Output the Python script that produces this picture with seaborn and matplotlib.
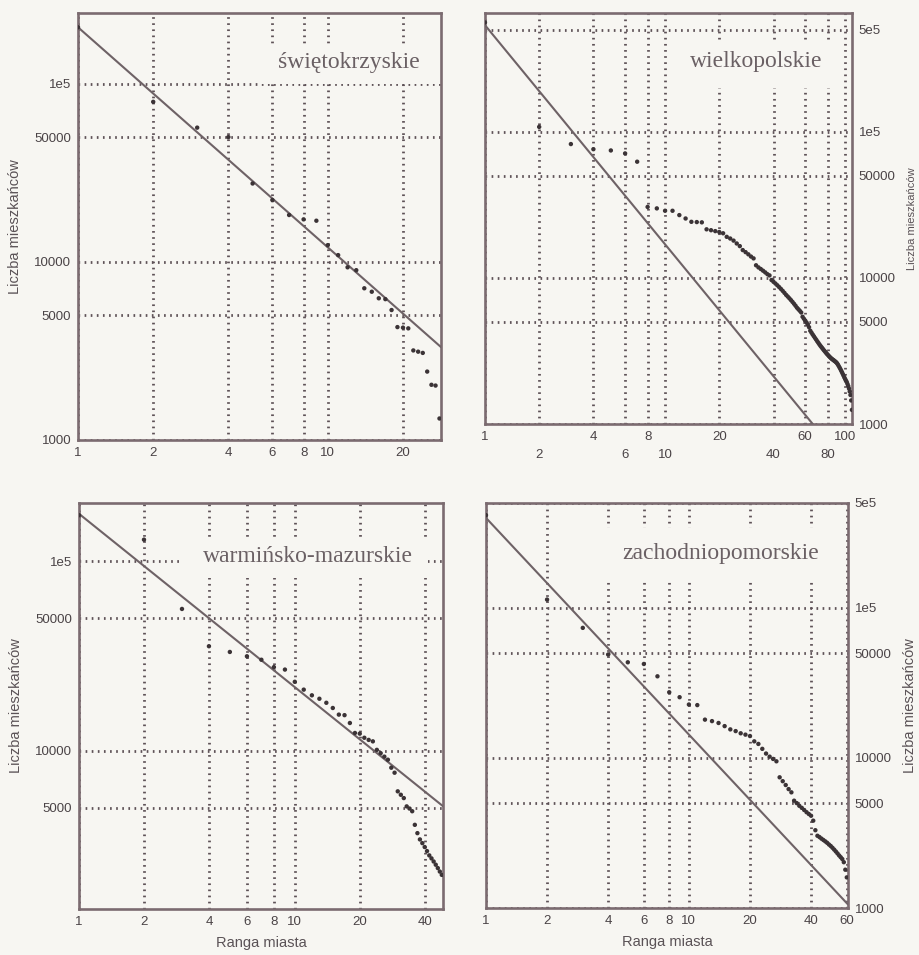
import matplotlib
matplotlib.use("Agg")
import matplotlib.pyplot as plt
from matplotlib.patches import Rectangle
import seaborn as sns
import pandas as pd

sns.set_theme(style="ticks")
plt.rcParams['font.family'] = ['Liberation Sans', 'DejaVu Sans']

BG = '#f7f6f2'
FRAME = '#7b6b70'
GRID = '#5e5257'
LINE = '#6e6266'
DOT = '#3b3336'
TXT = '#4a4346'

# city populations ordered by rank
swiet_pop = [207000, 79000, 56600, 50100, 27500, 22200, 18300, 17300, 17000, 12400,
             10900, 9310, 8970, 7100, 6790, 6240, 6170, 5360, 4300, 4270,
             4230, 3180, 3130, 3080, 2420, 2040, 2020, 1320]

wielk_pop = [560000, 108000, 82400, 76000, 74500, 71100, 62400,
             30600, 29900, 28800, 28800, 26900, 25500, 24200, 24100, 24000,
             21500, 21200, 20900, 20600, 20200,
             19100, 18600, 18000, 17200, 16500,
             15500, 15000, 14500, 14000, 13600,
             12200, 11800, 11500, 11200, 10900, 10600, 10400,
             9670, 9400, 9150, 8900, 8650, 8400, 8150, 7900, 7650, 7450,
             7250, 7050, 6850, 6650, 6450, 6250, 6100, 5950, 5800,
             5420, 5250, 5100, 4950, 4800, 4600,
             4350, 4220, 4100, 3990, 3880, 3780, 3680, 3590, 3500, 3420,
             3350, 3280, 3210, 3150, 3090, 3030, 2980, 2930, 2880, 2840,
             2800, 2770, 2740, 2710, 2680, 2650,
             2610, 2560, 2500, 2440, 2380, 2320, 2260, 2200, 2140, 2080, 2030, 1980,
             1940, 1880, 1820, 1750, 1670, 1580, 1450, 1250]

warm_pop = [175000, 130000, 56000, 35600, 33200, 31500, 30200, 27600, 26800, 23100,
            21000, 19600, 18800, 17900, 16800, 15500, 15400, 14000, 12400, 12300,
            11700, 11400, 11200, 10100, 9700, 9300, 8960, 8130, 7650, 6100,
            5850, 5620, 5080, 4950, 4790, 4060, 3670, 3400, 3250, 3100,
            2950, 2800, 2700, 2600, 2500, 2400, 2300, 2210]

zach_pop = [415000, 113600, 73600, 48900, 43400, 42300, 35000, 27400, 25400, 22700,
            22500, 18000, 17600, 17100, 16300, 15500, 15100, 14600, 14300, 14000,
            12900, 12400, 11500, 10700, 10200, 9850, 9500, 7430, 7000, 6600,
            6200, 5900, 5190, 5000, 4800, 4650, 4500, 4350, 4230, 4120,
            3820, 3300, 3030, 2970, 2900, 2840, 2780, 2720, 2650, 2590,
            2520, 2450, 2380, 2310, 2240, 2180, 2120, 2020, 1800, 1600]

# fitted rank-size line: value at rank 1 and slope
swiet_fit = (207000, -1.235)
wielk_fit = (537000, -1.50)
warm_fit = (178000, -0.915)
zach_fit = (398000, -1.444)

region_names = ['świętokrzyskie', 'wielkopolskie', 'warmińsko-mazurskie', 'zachodniopomorskie']

panels = [
    dict(name=region_names[0], pop=swiet_pop, fit=swiet_fit,
         rect=[0.0849, 0.5393, 0.395, 0.4471], xlim=(1, 28.4), ylim=(1000, 2.49e5),
         xticks=[1, 2, 4, 6, 8, 10, 20], xticks2=None,
         yticks=[1000, 5000, 10000, 50000, 1e5], side='left', xlabel=False,
         title_xy=(0.745, 0.885), box=(0.50, 0.834, 0.50, 0.091), ylab_size=10.5),
    dict(name=region_names[1], pop=wielk_pop, fit=wielk_fit,
         rect=[0.5277, 0.5560, 0.3993, 0.4304], xlim=(1, 109), ylim=(1000, 6.5e5),
         xticks=[1, 4, 8, 20, 60, 100], xticks2=[2, 6, 10, 40, 80],
         yticks=[1000, 5000, 10000, 50000, 1e5, 5e5], side='right', xlabel=False,
         title_xy=(0.74, 0.882), box=(0.531, 0.8175, 0.444, 0.1165), ylab_size=8),
    dict(name=region_names[2], pop=warm_pop, fit=warm_fit,
         rect=[0.0860, 0.0482, 0.396, 0.4251], xlim=(1, 48.6), ylim=(1460, 2.03e5),
         xticks=[1, 2, 4, 6, 8, 10, 20, 40], xticks2=None,
         yticks=[5000, 10000, 50000, 1e5], side='left', xlabel=True,
         title_xy=(0.63, 0.868), box=(0.286, 0.816, 0.673, 0.099), ylab_size=10.5),
    dict(name=region_names[3], pop=zach_pop, fit=zach_fit,
         rect=[0.5288, 0.0492, 0.3939, 0.4241], xlim=(1, 60.8), ylim=(1000, 5e5),
         xticks=[1, 2, 4, 6, 8, 10, 20, 40, 60], xticks2=None,
         yticks=[1000, 5000, 10000, 50000, 1e5, 5e5], side='right', xlabel=True,
         title_xy=(0.648, 0.875), box=(0.315, 0.81, 0.635, 0.129), ylab_size=10.5),
]


def ylab(v):
    if v >= 1e5:
        return '%de5' % (v / 1e5)
    return '%d' % v


fig = plt.figure(figsize=(9.19, 9.55), dpi=100, facecolor=BG)

for p in panels:
    ax = fig.add_axes(p['rect'])
    ax.set_facecolor(BG)
    df = pd.DataFrame({'rank': range(1, len(p['pop']) + 1), 'pop': p['pop']})

    a, b = p['fit']
    x_end = p['xlim'][1]
    fit_df = pd.DataFrame({'rank': [1, x_end], 'pop': [a, a * x_end ** b]})
    sns.lineplot(data=fit_df, x='rank', y='pop', ax=ax, color=LINE, lw=1.5, zorder=3)
    sns.scatterplot(data=df, x='rank', y='pop', ax=ax, color=DOT, s=10,
                    edgecolor='none', zorder=4)

    ax.set_xscale('log')
    ax.set_yscale('log')
    ax.set_xlim(*p['xlim'])
    ax.set_ylim(*p['ylim'])
    ax.minorticks_off()
    ax.set_xticks(p['xticks'], [str(t) for t in p['xticks']])
    if p['xticks2']:
        ax.set_xticks(p['xticks2'], [str(t) for t in p['xticks2']], minor=True)
        ax.tick_params(axis='x', which='minor', pad=18, length=0,
                       labelsize=9.5, labelcolor=TXT)
    ax.set_yticks(p['yticks'], [ylab(t) for t in p['yticks']])
    ax.tick_params(which='major', length=0, labelsize=9.5, labelcolor=TXT, pad=5)

    ax.grid(True, which='both', ls=(0, (0.6, 1.6)), lw=2.0, color=GRID)
    ax.set_axisbelow(True)
    for s in ax.spines.values():
        s.set_visible(True)
        s.set_color(FRAME)
        s.set_linewidth(1.9)

    # the label area in the scan blanks out the grid behind it
    bx, by, bw, bh = p['box']
    ax.add_patch(Rectangle((bx, by), bw, bh, transform=ax.transAxes,
                           fc=BG, ec='none', zorder=2))

    if p['side'] == 'right':
        ax.yaxis.tick_right()
        ax.yaxis.set_label_position('right')
        ax.set_ylabel('Liczba mieszkańców', fontsize=p['ylab_size'], color='#5a5256',
                      labelpad=8)
    else:
        ax.set_ylabel('Liczba mieszkańców', fontsize=p['ylab_size'], color='#5a5256',
                      labelpad=9)
    if p['xlabel']:
        ax.set_xlabel('Ranga miasta', fontsize=10.5, color='#5a5256', labelpad=6)
    else:
        ax.set_xlabel('')

    ax.text(p['title_xy'][0], p['title_xy'][1], p['name'], transform=ax.transAxes,
            ha='center', va='center', fontsize=17, color='#6a6064',
            family=['Liberation Serif', 'DejaVu Serif'], zorder=3.5)

fig.savefig('out.png', dpi=100, facecolor=BG)
